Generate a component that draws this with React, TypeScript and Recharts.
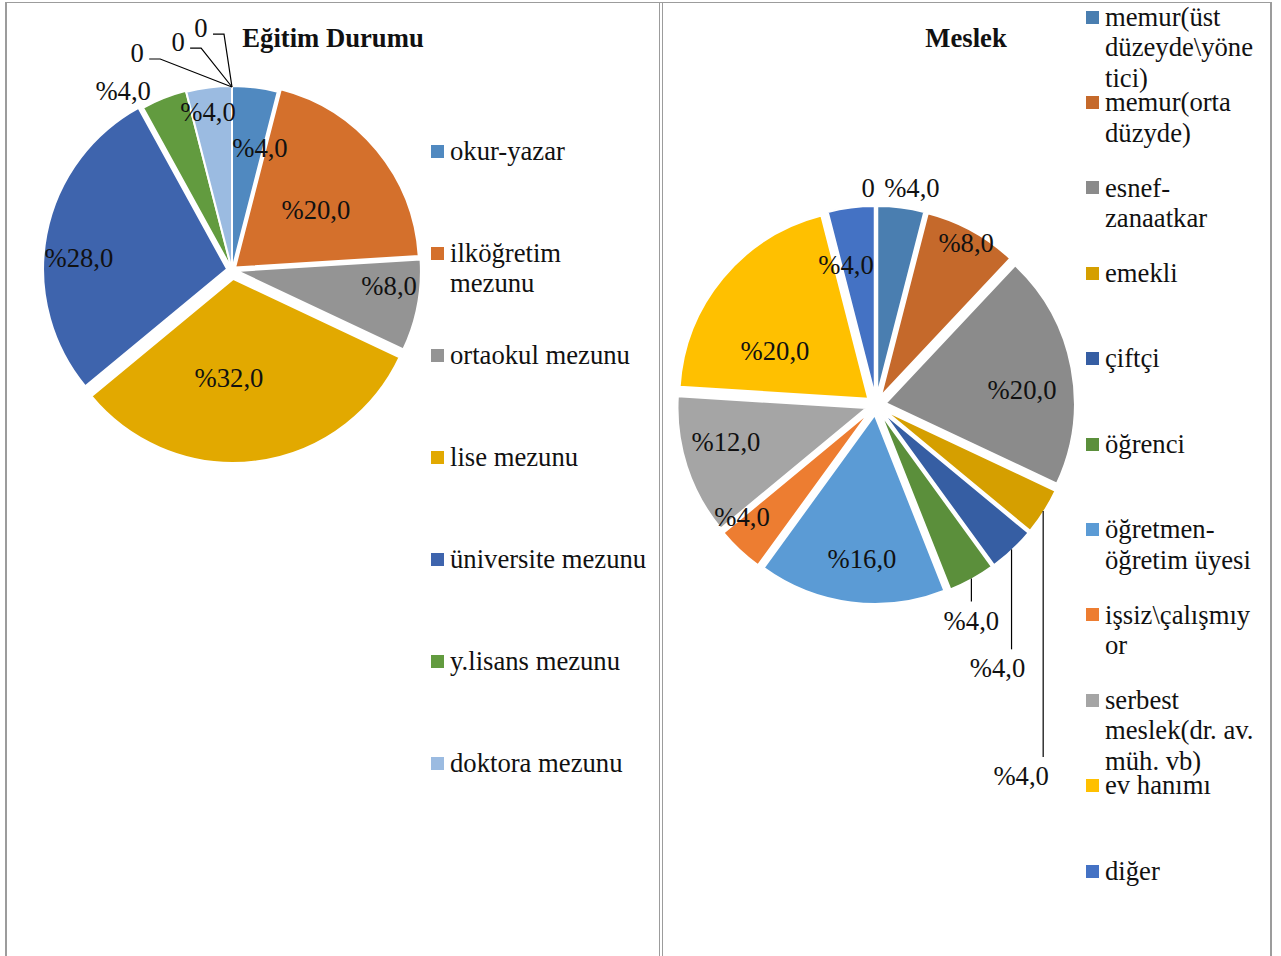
import React from 'react';
import { PieChart, Pie, Cell } from 'recharts';

// ---------------- DATA: Eğitim Durumu ----------------
const eduCategories = [
  'okur-yazar',
  'ilköğretim mezunu',
  'ortaokul mezunu',
  'lise mezunu',
  'üniversite mezunu',
  'y.lisans mezunu',
  'doktora mezunu',
];
const eduValues = [4.0, 20.0, 8.0, 32.0, 28.0, 4.0, 4.0];
const eduZeroValues = [0, 0, 0];
const eduTitle = 'Eğitim Durumu';

// ---------------- DATA: Meslek ----------------
const jobCategories = [
  'memur(üst düzeyde\\yönetici)',
  'memur(orta düzyde)',
  'esnef-zanaatkar',
  'emekli',
  'çiftçi',
  'öğrenci',
  'öğretmen-öğretim üyesi',
  'işsiz\\çalışmıyor',
  'serbest meslek(dr. av. müh. vb)',
  'ev hanımı',
  'diğer',
];
const jobValues = [4.0, 8.0, 20.0, 4.0, 4.0, 4.0, 16.0, 4.0, 12.0, 20.0, 4.0];
const jobZeroValues = [0];
const jobTitle = 'Meslek';

// ---------------- STYLE ----------------
const eduColors = ['#5089C0', '#D4702C', '#949494', '#E2A900', '#3E64AD', '#629B3F', '#9BBBE1'];
const jobColors = [
  '#4A7EB0', '#C5692B', '#8B8B8B', '#D59F00', '#365EA3', '#5B8F3B',
  '#5B9BD5', '#ED7D31', '#A5A5A5', '#FFC000', '#4472C4',
];
const FONT = '"Liberation Serif", "Times New Roman", serif';
const FS = 26.67;
const LH = 30.5;
const RAD = Math.PI / 180;

type Place = { k?: number; da?: number; leader?: number; dx?: number; elbow?: boolean };

const eduGeom = { left: 0, width: 660, cx: 232, cy: 270, r: 183 };
const eduExplode = [0, 4, 5, 9, 5, 1, 0, 0, 0, 0];
const eduPlace: Place[] = [
  { k: 0.684, da: -5.7 },
  { k: 0.563, da: -4.1 },
  { k: 0.863, da: 5.0 },
  { k: 0.59, da: -8.8 },
  { k: 0.839, da: 6.3 },
  { k: 1.145, da: 9.7 },
  { k: 0.874, da: 1.4 },
  { k: 1.294, da: 23.6, elbow: true },
  { k: 1.28, da: 13.3, elbow: true },
  { k: 1.333, da: 7.3, elbow: true },
];

const jobGeom = { left: 660, width: 621, cx: 216, cy: 405, r: 188 };
const jobExplode = [10, 10, 10, 10, 10, 10, 10, 10, 10, 10, 10, 10];
const jobPlace: Place[] = [
  { k: 1.17, da: -2.2 },
  { k: 0.986, da: -0.3 },
  { k: 0.781, da: -4.9 },
  { leader: 246, dx: -22 },
  { leader: 100, dx: -14 },
  { leader: 23, dx: 0 },
  { k: 0.822, da: 2.0 },
  { k: 0.929, da: -6.9 },
  { k: 0.822, da: -4.1 },
  { k: 0.609, da: 11.5 },
  { k: 0.762, da: 4.9 },
  { k: 1.155, da: 2.1 },
];

function polar(cx: number, cy: number, r: number, a: number): [number, number] {
  return [cx + r * Math.cos(-a * RAD), cy + r * Math.sin(-a * RAD)];
}

function explodeOffsets(values: number[], d: number[]) {
  const total = values.reduce((s, v) => s + v, 0);
  let acc = 0;
  return values.map((v, i) => {
    const mid = 90 - (360 * (acc + v / 2)) / total;
    acc += v;
    const e = d[i] ?? 0;
    return { dx: e * Math.cos(mid * RAD), dy: -e * Math.sin(mid * RAD) };
  });
}

function fmt(v: number) {
  return v === 0 ? '0' : '%' + v.toFixed(1).replace('.', ',');
}

function makeLabel(place: Place[], R: number, explode: number[]) {
  return (props: any) => {
    const { cx, cy, index, value, startAngle, endAngle } = props;
    const mid = (startAngle + endAngle) / 2;
    const p = place[index];
    if (!p) return null;
    const text = fmt(Number(value));
    const textProps = {
      fontFamily: FONT,
      fontSize: FS,
      fill: '#111',
      textAnchor: 'middle' as const,
      dominantBaseline: 'central' as const,
    };
    if (p.leader) {
      const [sx, sy] = polar(cx, cy, R + (explode[index] ?? 0), mid);
      const ey = sy + p.leader;
      return (
        <g key={`l-${index}`}>
          <line x1={sx} y1={sy} x2={sx} y2={ey} stroke="#000" strokeWidth={1.2} />
          <text x={sx + (p.dx ?? 0)} y={ey + 19} {...textProps}>{text}</text>
        </g>
      );
    }
    const [lx, ly] = polar(cx, cy, R * (p.k ?? 1), mid + (p.da ?? 0));
    if (p.elbow) {
      const [sx, sy] = polar(cx, cy, R, mid);
      return (
        <g key={`l-${index}`}>
          <path d={`M${lx + 12},${ly + 6}H${lx + 23}L${sx},${sy}`} fill="none" stroke="#000" strokeWidth={1.2} />
          <text x={lx} y={ly} {...textProps}>{text}</text>
        </g>
      );
    }
    return <text key={`l-${index}`} x={lx} y={ly} {...textProps}>{text}</text>;
  };
}

const eduData = [
  ...eduCategories.map((name, i) => ({ name, value: eduValues[i] })),
  ...eduZeroValues.map((v, i) => ({ name: `0-${i}`, value: v })),
];
const jobData = [
  ...jobCategories.map((name, i) => ({ name, value: jobValues[i] })),
  ...jobZeroValues.map((v, i) => ({ name: `0-${i}`, value: v })),
];

function Legend({ names, colors, x, y0, step, width }: { names: string[]; colors: string[]; x: number; y0: number; step: number; width: number }) {
  return (
    <>
      {names.map((n, i) => {
        const yc = y0 + step * i;
        return (
          <div key={n}>
            <div style={{ position: 'absolute', left: x, top: yc - 6.5, width: 13, height: 13, background: colors[i] }} />
            <div
              style={{
                position: 'absolute',
                left: x + 19,
                top: yc - LH / 2,
                width,
                fontFamily: FONT,
                fontSize: FS,
                lineHeight: `${LH}px`,
                color: '#111',
                overflowWrap: 'anywhere',
              }}
            >
              {n}
            </div>
          </div>
        );
      })}
    </>
  );
}

function PieBlock({ data, colors, geom, explode, place, values }: any) {
  const offs = explodeOffsets(values, explode);
  return (
    <div style={{ position: 'absolute', left: geom.left, top: 0 }}>
      <PieChart width={geom.width} height={956} margin={{ top: 0, right: 0, bottom: 0, left: 0 }}>
        <Pie
          data={data}
          dataKey="value"
          nameKey="name"
          cx={geom.cx}
          cy={geom.cy}
          outerRadius={geom.r + 1}
          startAngle={90}
          endAngle={-270}
          stroke="#fff"
          strokeWidth={2}
          isAnimationActive={false}
          labelLine={false}
          label={makeLabel(place, geom.r, explode)}
        >
          {data.map((d: any, i: number) => (
            <Cell
              key={d.name}
              fill={colors[i] ?? '#fff'}
              stroke="#fff"
              strokeWidth={2}
              transform={`translate(${offs[i].dx.toFixed(2)},${offs[i].dy.toFixed(2)})`}
            />
          ))}
        </Pie>
      </PieChart>
    </div>
  );
}

const line = (s: React.CSSProperties) => <div style={{ position: 'absolute', background: '#9c9c9c', ...s }} />;

export default function App() {
  return (
    <div style={{ position: 'absolute', left: 0, top: 0, width: 1281, height: 956, overflow: 'hidden', background: '#fff' }}>
      {/* frame */}
      {line({ left: 5, top: 2, width: 1267, height: 1 })}
      {line({ left: 5, top: 2, width: 2, height: 954 })}
      {line({ left: 659, top: 2, width: 1, height: 954 })}
      {line({ left: 662, top: 2, width: 1, height: 954 })}
      {line({ left: 1270, top: 2, width: 2, height: 954 })}

      <PieBlock data={eduData} values={[...eduValues, ...eduZeroValues]} colors={eduColors} geom={eduGeom} explode={eduExplode} place={eduPlace} />
      <PieBlock data={jobData} values={[...jobValues, ...jobZeroValues]} colors={jobColors} geom={jobGeom} explode={jobExplode} place={jobPlace} />

      <div style={{ position: 'absolute', left: 133, width: 400, top: 38 - LH / 2, textAlign: 'center', fontFamily: FONT, fontSize: FS, fontWeight: 'bold', lineHeight: `${LH}px`, color: '#111' }}>
        {eduTitle}
      </div>
      <div style={{ position: 'absolute', left: 766, width: 400, top: 38 - LH / 2, textAlign: 'center', fontFamily: FONT, fontSize: FS, fontWeight: 'bold', lineHeight: `${LH}px`, color: '#111' }}>
        {jobTitle}
      </div>

      <Legend names={eduCategories} colors={eduColors} x={431} y0={151} step={102} width={199} />
      <Legend names={jobCategories} colors={jobColors} x={1086} y0={17} step={85.4} width={153} />
    </div>
  );
}
